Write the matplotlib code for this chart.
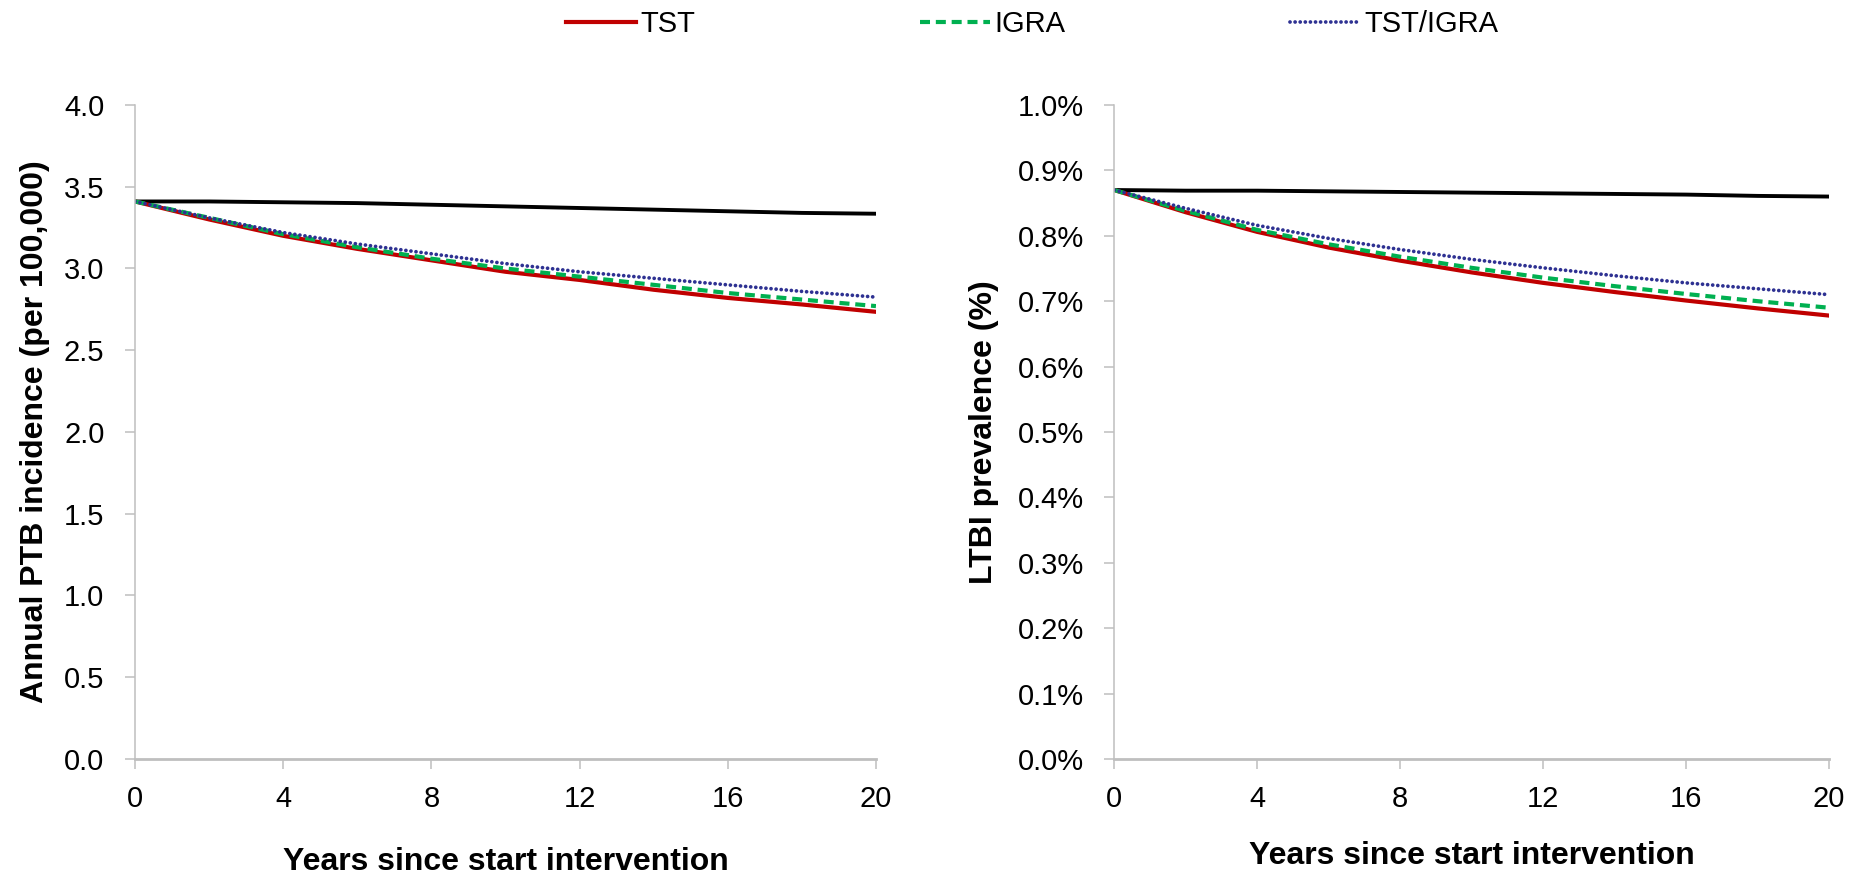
import matplotlib
matplotlib.use("Agg")
import matplotlib.pyplot as plt
from matplotlib.ticker import FuncFormatter, MultipleLocator

plt.rcParams["font.family"] = ["Liberation Sans", "DejaVu Sans"]

years = [0, 2, 4, 6, 8, 10, 12, 14, 16, 18, 20]

# annual PTB incidence (per 100,000)
ptb_base = [3.41, 3.41, 3.405, 3.40, 3.39, 3.38, 3.37, 3.36, 3.35, 3.34, 3.335]
ptb_tst = [3.41, 3.30, 3.20, 3.12, 3.05, 2.98, 2.93, 2.87, 2.82, 2.78, 2.735]
ptb_igra = [3.41, 3.31, 3.21, 3.13, 3.06, 3.00, 2.95, 2.90, 2.85, 2.81, 2.77]
ptb_both = [3.41, 3.31, 3.22, 3.15, 3.09, 3.03, 2.98, 2.94, 2.90, 2.86, 2.825]

# LTBI prevalence (%)
ltbi_base = [0.870, 0.869, 0.869, 0.868, 0.867, 0.866, 0.865, 0.864, 0.863, 0.861, 0.860]
ltbi_tst = [0.870, 0.836, 0.806, 0.782, 0.762, 0.744, 0.728, 0.714, 0.701, 0.689, 0.678]
ltbi_igra = [0.870, 0.838, 0.809, 0.787, 0.768, 0.751, 0.736, 0.723, 0.711, 0.700, 0.690]
ltbi_both = [0.870, 0.842, 0.816, 0.796, 0.779, 0.764, 0.751, 0.739, 0.728, 0.719, 0.710]

RED = "#C00000"
GREEN = "#00B050"
BLUE = "#2E3192"
GREY = "#BFBFBF"
LABEL_FONT = dict(fontsize=23, fontweight="bold")

fig = plt.figure(figsize=(18.57, 8.75), dpi=100)
ax1 = fig.add_axes([0.0727, 0.1326, 0.399, 0.7474])
ax2 = fig.add_axes([0.600, 0.1326, 0.385, 0.7474])


def draw(ax, base, tst, igra, both):
    ax.plot(years, base, color="black", lw=2.8)
    ax.plot(years, tst, color=RED, lw=3.0, label="TST")
    ax.plot(years, igra, color=GREEN, lw=3.0, ls=(0, (2.4, 1.4)), label="IGRA")
    ax.plot(years, both, color=BLUE, lw=2.7, ls=(0, (0.01, 1.35)),
            dash_capstyle="round", label="TST/IGRA")
    ax.set_xlim(0, 20)
    ax.xaxis.set_major_locator(MultipleLocator(4))
    for side in ("top", "right"):
        ax.spines[side].set_visible(False)
    ax.spines["left"].set_color(GREY)
    ax.spines["left"].set_linewidth(1.1)
    ax.spines["bottom"].set_color(GREY)
    ax.spines["bottom"].set_linewidth(2.0)
    ax.tick_params(axis="both", colors=GREY, labelcolor="black", labelsize=21,
                   length=7, width=1.1)
    ax.tick_params(axis="x", pad=12)
    ax.tick_params(axis="y", pad=15)
    ax.set_xlabel("Years since start intervention", labelpad=24, **LABEL_FONT)


draw(ax1, ptb_base, ptb_tst, ptb_igra, ptb_both)
ax1.set_ylim(0, 4.0)
ax1.yaxis.set_major_locator(MultipleLocator(0.5))
ax1.yaxis.set_major_formatter(FuncFormatter(lambda v, p: f"{v:.1f}"))
ax1.set_ylabel("Annual PTB incidence (per 100,000)", labelpad=10, **LABEL_FONT)

draw(ax2, ltbi_base, ltbi_tst, ltbi_igra, ltbi_both)
ax2.set_ylim(0, 1.0)
ax2.yaxis.set_major_locator(MultipleLocator(0.1))
ax2.yaxis.set_major_formatter(FuncFormatter(lambda v, p: f"{v:.1f}%"))
ax2.set_ylabel("LTBI prevalence (%)", labelpad=13, **LABEL_FONT)
ax2.xaxis.labelpad = 20

handles, labels = ax1.get_legend_handles_labels()
fig.legend(handles, labels, loc="center", bbox_to_anchor=(0.556, 0.972),
           ncol=3, frameon=False, fontsize=21, handlelength=2.4,
           handletextpad=0.15, columnspacing=7.7)

fig.savefig("out.png", dpi=100)
